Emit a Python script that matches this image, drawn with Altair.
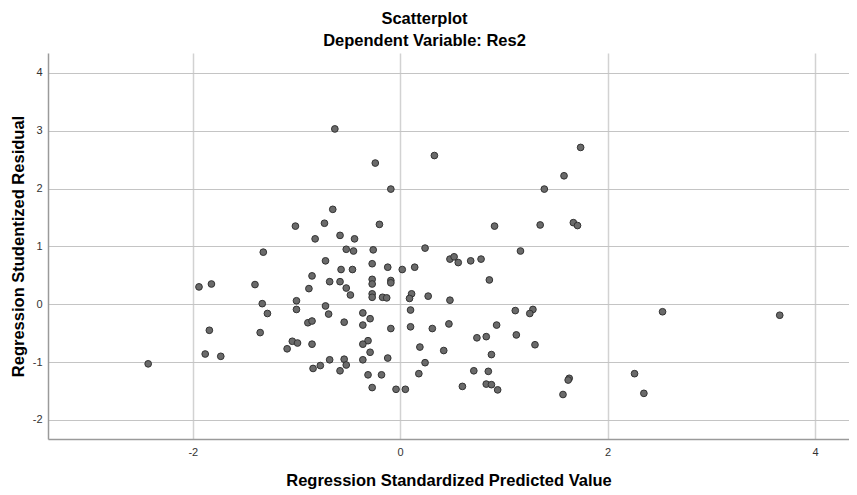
import altair as alt
import pandas as pd

# Regression Standardized Predicted Value (x) and Studentized Residual (y)
pred = [-2.43, -1.94, -1.82, -1.88, -1.73, -1.84, -1.40, -1.32, -1.33, -1.28,
        -1.35, -1.01, -0.73, -0.82, -0.72, -0.85, -0.68, -0.88, -1.00, -1.00,
        -0.72, -0.69, -0.89, -0.85, -1.04, -0.99, -1.09, -0.85, -0.84, -0.77,
        -0.68, -0.63, -0.24, -0.09, -0.65, -0.20, -0.58, -0.44, -0.52, -0.45,
        -0.26, -0.57, -0.46, -0.27, -0.12, 0.02, 0.14, 0.24, 0.48, 0.52,
        0.56, 0.68, -0.58, -0.27, -0.27, -0.09, -0.09, -0.52, -0.48, -0.27,
        -0.27, -0.17, -0.13, 0.11, 0.09, 0.27, 0.48, -0.36, -0.29, -0.54,
        -0.36, 0.10, -0.09, 0.10, 0.31, 0.47, -0.31, -0.36, -0.29, 0.19,
        0.42, -0.54, -0.52, -0.58, -0.36, -0.12, 0.24, -0.31, -0.18, 0.18,
        -0.27, -0.04, 0.05, 0.60, 0.33, 1.74, 1.58, 1.39, 0.91, 1.35,
        1.67, 1.71, 1.16, 0.78, 0.86, 1.11, 1.28, 1.25, 0.93, 0.74,
        0.83, 1.12, 1.30, 0.88, 0.71, 0.85, 0.83, 0.88, 0.94, 1.63,
        1.62, 1.57, 2.53, 3.66, 2.26, 2.35]

resid = [-1.03, 0.30, 0.35, -0.86, -0.90, -0.45, 0.34, 0.90, 0.01, -0.16,
         -0.49, 1.35, 1.40, 1.13, 0.75, 0.49, 0.39, 0.27, 0.06, -0.09,
         -0.03, -0.17, -0.32, -0.29, -0.64, -0.67, -0.77, -0.69, -1.11, -1.06,
         -0.96, 3.03, 2.44, 1.99, 1.64, 1.38, 1.19, 1.13, 0.95, 0.92,
         0.94, 0.60, 0.60, 0.70, 0.64, 0.60, 0.64, 0.97, 0.78, 0.82,
         0.72, 0.75, 0.39, 0.43, 0.35, 0.41, 0.37, 0.28, 0.16, 0.18,
         0.12, 0.12, 0.11, 0.18, 0.10, 0.14, 0.07, -0.15, -0.25, -0.31,
         -0.36, -0.10, -0.42, -0.39, -0.42, -0.34, -0.63, -0.69, -0.83, -0.74,
         -0.80, -0.95, -1.05, -1.15, -0.96, -0.93, -1.01, -1.22, -1.22, -1.20,
         -1.44, -1.47, -1.47, -1.42, 2.57, 2.71, 2.22, 1.99, 1.35, 1.37,
         1.41, 1.36, 0.92, 0.78, 0.42, -0.11, -0.09, -0.16, -0.36, -0.58,
         -0.56, -0.53, -0.70, -0.87, -1.15, -1.16, -1.38, -1.39, -1.48, -1.28,
         -1.31, -1.56, -0.13, -0.19, -1.20, -1.54]

x_ticks = [-2, 0, 2, 4]
y_ticks = [-2, -1, 0, 1, 2, 3, 4]

df = pd.DataFrame({"pred": pred, "resid": resid})

FONT = "Liberation Sans"

chart = alt.Chart(df).mark_circle(
    size=45, color="#6a6a6a", stroke="#333333", strokeWidth=1, opacity=1
).encode(
    x=alt.X("pred:Q",
            scale=alt.Scale(domain=[-3.396, 4.328], nice=False, zero=False),
            axis=alt.Axis(values=x_ticks, title="Regression Standardized Predicted Value",
                          labelExpr="'' + datum.value",
                          labelPadding=7, titleY=46, titleBaseline="alphabetic",
                          gridColor="#d2d2d2", gridWidth=1.5)),
    y=alt.Y("resid:Q",
            scale=alt.Scale(domain=[-2.329, 4.342], nice=False, zero=False),
            axis=alt.Axis(values=y_ticks, title="Regression Studentized Residual",
                          labelExpr="'' + datum.value",
                          labelPadding=6, titleX=-25, titleY=193, titleAngle=270,
                          titleBaseline="alphabetic", titleAlign="center",
                          gridColor="#c4c4c4", gridWidth=1)),
).properties(
    width=801,
    height=386,
    title=alt.TitleParams(
        text="Scatterplot",
        subtitle="Dependent Variable: Res2",
        font=FONT, fontSize=16.5, fontWeight="bold", color="#000000",
        subtitleFont=FONT, subtitleFontSize=16.5, subtitleFontWeight="bold",
        subtitleColor="#000000",
        anchor="middle", dx=-24, offset=4, subtitlePadding=5,
    ),
    padding={"left": 40, "top": 45, "right": 0, "bottom": 50},
    autosize=alt.AutoSizeParams(type="none"),
).configure_view(
    stroke=None
).configure_axis(
    labelFont=FONT, labelFontSize=11, labelColor="#333333",
    titleFont=FONT, titleFontSize=16.5, titleFontWeight="bold", titleColor="#000000",
    ticks=False, domainColor="#9a9a9a", domainWidth=1.5,
)

chart.save("out.html", embed_options={"renderer": "svg", "actions": False})
